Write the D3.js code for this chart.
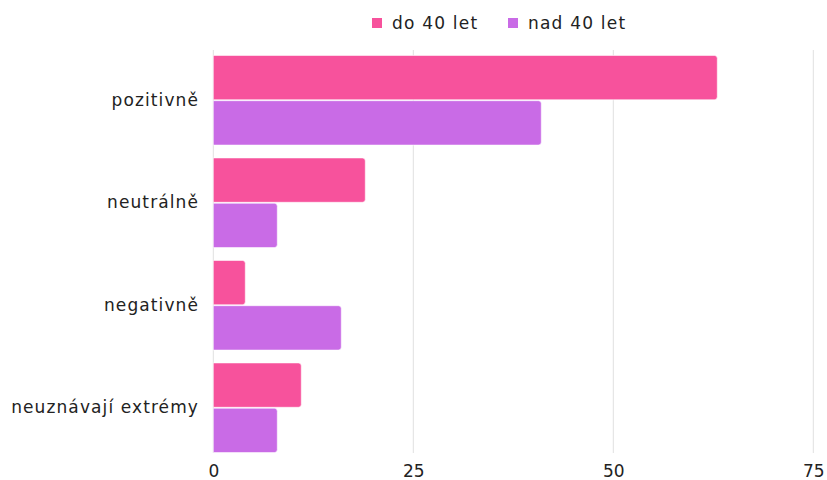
<!DOCTYPE html>
<html>
<head>
<meta charset="utf-8">
<script src="https://cdn.jsdelivr.net/npm/d3@7"></script>
<style>
  body { margin: 0; background: #fff; }
  svg text { font-family: "DejaVu Sans", sans-serif; fill: #222; }
</style>
</head>
<body>
<svg id="chart" width="827" height="480"></svg>
<script>
var categories = ['pozitivně', 'neutrálně', 'negativně', 'neuznávají extrémy'];
var seriesNames = ['do 40 let', 'nad 40 let'];
var under40 = [63, 19, 4, 11];
var over40 = [41, 8, 16, 8];
var xTicks = [0, 25, 50, 75];
var colors = ['#f7529c', '#c96be6'];
var fontFamily = '"DejaVu Sans", sans-serif';

var svg = d3.select('#chart');
var left = 213.3, right = 813.3;

var xScale = d3.scaleLinear().domain([0, 75]).range([left, right]);
var yScale = d3.scaleBand()
               .domain(categories)
               .range([49, 459])
               .paddingInner(0.125)
               .paddingOuter(0.0625);
var inner = d3.scaleBand()
              .domain(seriesNames)
              .range([0, yScale.bandwidth()])
              .paddingInner(0.02);

// grid lines
svg.append('g')
  .selectAll('line')
  .data(xTicks)
  .enter()
  .append('line')
    .attr('x1', d => xScale(d))
    .attr('x2', d => xScale(d))
    .attr('y1', 50)
    .attr('y2', 453)
    .attr('stroke', '#e0e0e0')
    .attr('stroke-width', 1);

// x tick labels
var xAxis = d3.axisBottom(xScale).tickValues(xTicks).tickSize(0).tickPadding(0);
var gx = svg.append('g')
  .attr('transform', 'translate(0, 464)')
  .call(xAxis);
gx.select('.domain').remove();
gx.selectAll('text')
  .attr('dy', '0.75em')
  .style('font-size', '17px')
  .style('font-family', fontFamily)
  .attr('fill', '#222');

// category labels
var yAxis = d3.axisLeft(yScale).tickSize(0).tickPadding(0);
var gy = svg.append('g')
  .attr('transform', 'translate(199, 0)')
  .call(yAxis);
gy.select('.domain').remove();
gy.selectAll('text')
  .style('font-size', '17px')
  .style('letter-spacing', '1.1px')
  .style('font-family', fontFamily)
  .attr('fill', '#222');

function barPath(x0, x1, y, h, r) {
  r = Math.min(r, (x1 - x0) / 2);
  return 'M' + x0 + ',' + y +
    'H' + (x1 - r) +
    'Q' + x1 + ',' + y + ' ' + x1 + ',' + (y + r) +
    'V' + (y + h - r) +
    'Q' + x1 + ',' + (y + h) + ' ' + (x1 - r) + ',' + (y + h) +
    'H' + x0 + 'Z';
}

var series = [under40, over40];
series.forEach(function(values, s) {
  svg.append('g')
    .selectAll('path')
    .data(values)
    .enter()
    .append('path')
      .attr('d', (d, i) => barPath(xScale(0), xScale(d), yScale(categories[i]) + inner(seriesNames[s]), inner.bandwidth(), 3))
      .attr('fill', colors[s])
      .attr('stroke', '#ffffff')
      .attr('stroke-opacity', 0.6)
      .attr('stroke-width', 1);
});

// legend
var legendX = [372, 508];
var legend = svg.append('g')
  .selectAll('g')
  .data(seriesNames)
  .enter()
  .append('g')
    .attr('transform', (d, i) => `translate(${legendX[i]}, 18)`);
legend.append('rect')
  .attr('width', 10)
  .attr('height', 10)
  .attr('fill', (d, i) => colors[i]);
legend.append('text')
  .attr('x', 20)
  .attr('y', 5)
  .attr('dy', '0.35em')
  .style('font-size', '17px')
  .style('letter-spacing', '1.2px')
  .text(d => d);
</script>
</body>
</html>
